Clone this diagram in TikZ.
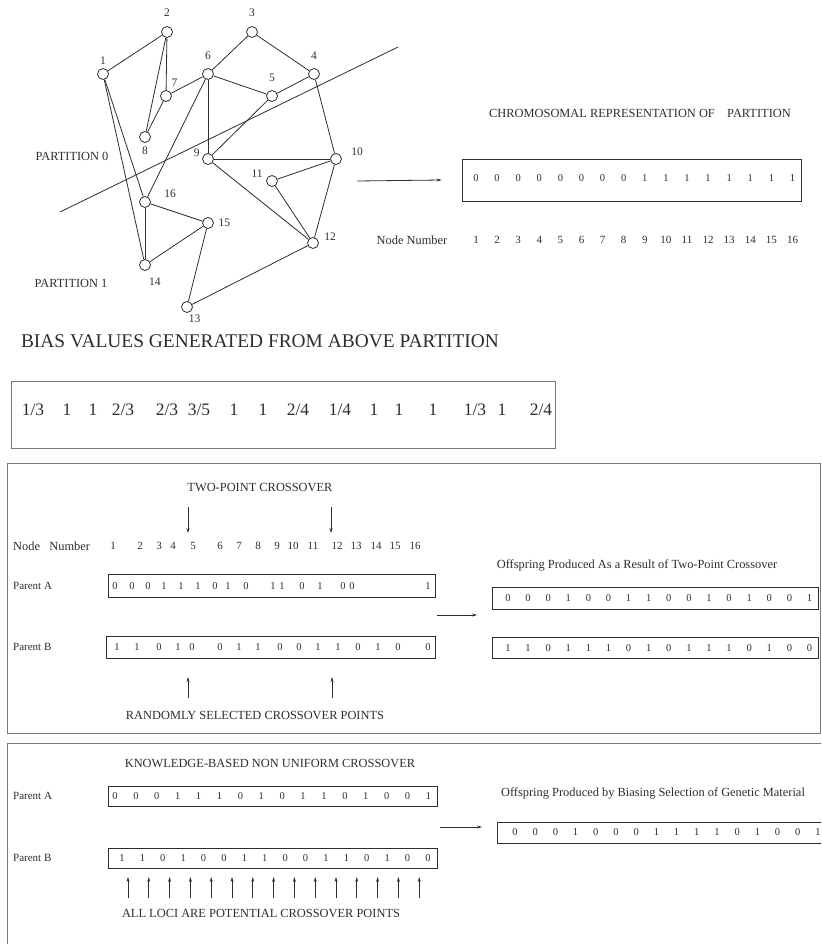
\documentclass[tikz,border=0pt]{standalone}
\usepackage{fontspec}
\setmainfont{Liberation Serif}
\usetikzlibrary{arrows.meta}
\definecolor{ink}{RGB}{45,45,45}
\definecolor{frame}{RGB}{120,120,120}
\tikzset{
  vtx/.style={circle,draw=ink,line width=0.8pt,minimum size=11pt,inner sep=0pt},
  vlab/.style={font=\fontsize{11.5}{13}\selectfont,inner sep=0.5pt,text=ink},
  lbl/.style={font=\fontsize{12.4}{14}\selectfont,inner sep=0pt,text=ink},
  small/.style={font=\fontsize{11}{13}\selectfont,inner sep=0pt,text=ink},
  note/.style={font=\fontsize{12.4}{14}\selectfont,inner sep=0pt,text=ink},
  big/.style={font=\fontsize{19.4}{22}\selectfont,inner sep=0pt,text=ink},
  bias/.style={font=\fontsize{17.5}{20}\selectfont,inner sep=0pt,text=ink},
  bit/.style={font=\fontsize{10.5}{12}\selectfont,inner sep=0pt,text=ink},
  chromo/.style={draw=ink,line width=0.7pt,inner sep=0pt},
  edge/.style={ink,line width=0.8pt},
  panel/.style={draw=frame,line width=1pt},
  >={Stealth[length=5pt,width=3pt]}
}
\begin{document}
\begin{tikzpicture}[x=1pt,y=-1pt]
 \useasboundingbox (0,0) rectangle (821,944);
 \clip (0,0) rectangle (821,944);
 % the graph and its cut
 \node[vtx,label={[vlab,label distance=3pt]90:1}] (n1) at (103,74) {};
 \node[vtx,label={[vlab,label distance=9pt]90:2}] (n2) at (167,32) {};
 \node[vtx,label={[vlab,label distance=9pt]90:3}] (n3) at (252,32) {};
 \node[vtx,label={[vlab,label distance=8pt]90:4}] (n4) at (314,74) {};
 \node[vtx,label={[vlab,label distance=8pt]90:5}] (n5) at (272,96) {};
 \node[vtx,label={[vlab,label distance=8pt]90:6}] (n6) at (208,74) {};
 \node[vtx,label={[vlab,label distance=4pt]60:7}] (n7) at (166,96) {};
 \node[vtx,label={[vlab,label distance=3pt]-90:8}] (n8) at (145,137) {};
 \node[vtx,label={[vlab,label distance=2pt]170:9}] (n9) at (208,159) {};
 \node[vtx,label={[vlab,label distance=9pt]10:10}] (n10) at (336,159) {};
 \node[vtx,label={[vlab,label distance=3pt]165:11}] (n11) at (272,181) {};
 \node[vtx,label={[vlab,label distance=5pt]10:12}] (n12) at (313,243) {};
 \node[vtx,label={[vlab,label distance=1pt]-80:13}] (n13) at (187,307) {};
 \node[vtx,label={[vlab,label distance=7pt]-75:14}] (n14) at (145,265) {};
 \node[vtx,label={[vlab,label distance=4pt]0:15}] (n15) at (208,223) {};
 \node[vtx,label={[vlab,label distance=13pt]10:16}] (n16) at (145,202) {};
 \foreach \a/\b in {n1/n2,n2/n7,n2/n8,n7/n8,n7/n6,n6/n3,n3/n4,n6/n5,n5/n4,
   n6/n9,n6/n16,n5/n9,n4/n10,n9/n10,n9/n12,n10/n11,n10/n12,n11/n12,
   n1/n14,n1/n16,n16/n14,n16/n15,n14/n15,n15/n13,n13/n12}
   \draw[edge] (\a) -- (\b);
 \coordinate (cutA) at (60,212);
 \coordinate (cutB) at (398,47);
 \draw[edge] (cutA) -- (cutB);
 \node[lbl] (part0) at (72,156) {PARTITION 0};
 \node[lbl] (part1) at (71,283) {PARTITION 1};
 % chromosome of the partition
 \node[lbl] (chromtitle) at (640,113) {CHROMOSOMAL REPRESENTATION OF\ \ \ \ PARTITION};
 \node[chromo,minimum width=339pt,minimum height=42pt] (chrom) at (631.5,180) {};
 \foreach \b [count=\i] in {0,0,0,0,0,0,0,0,1,1,1,1,1,1,1,1}
   \node[bit] (c\i) at ({476+21.1*(\i-1)},178) {\b};
 \node[lbl] (nodenum) at (412,240) {Node Number};
 \foreach \i in {1,...,16}
   \node[small] (cn\i) at ({476+21.1*(\i-1)},240) {\i};
 \coordinate (gout) at (357,181);
 \draw[edge,->] (gout) -- ([xshift=-20pt]chrom.west);
 % bias values
 \node[big] (biastitle) at (260,341) {BIAS VALUES GENERATED FROM ABOVE PARTITION};
 \node[panel,minimum width=544pt,minimum height=67pt] (biasbox) at (283,414.5) {};
 \foreach \x/\v in {33/{1/3},67/1,93/1,123/{2/3},167/{2/3},199/{3/5},234/1,263/1,
   298/{2/4},340/{1/4},374/1,399/1,433/1,475/{1/3},502/1,541/{2/4}}
   \node[bias] (bv\x) at (\x,410) {\v};
 % two-point crossover
 \draw[panel] (7,463) rectangle (820,733);
 \node[note] (tptitle) at (260,487) {TWO-POINT CROSSOVER};
 \coordinate (tpd1) at (188,507);
 \coordinate (tpd2) at (331,507);
 \draw[edge,->] (tpd1) -- ++(0,26);
 \draw[edge,->] (tpd2) -- ++(0,26);
 \node[note,anchor=west] (tpnum) at (13,546) {Node\ \ \ Number};
 \foreach \x [count=\i] in {113,140,159,173,193,220,239,258,277,293,313,337,356,376,395,415}
   \node[small] (tn\i) at (\x,546) {\i};
 \node[small,anchor=west] (tpAlab) at (13,586) {Parent A};
 \node[chromo,minimum width=327pt,minimum height=23pt] (tpA) at (271.5,585.5) {};
 \foreach \x/\b in {115/0,132/0,148/0,164/1,181/1,198/1,215/0,228/1,246/0,273/1,282/1,
   302/0,320/1,343/0,352/0,428/1}
   \node[bit] (ta\x) at (\x,586) {\b};
 \node[small,anchor=west] (tpBlab) at (13,647) {Parent B};
 \node[chromo,minimum width=329pt,minimum height=22pt] (tpB) at (270.5,647) {};
 \foreach \x/\b in {117/1,137/1,159/0,178/1,192/0,220/0,239/1,258/1,280/0,299/0,318/1,
   338/1,358/0,378/1,398/0,428/0}
   \node[bit] (tb\x) at (\x,647) {\b};
 \coordinate (tpgo) at (437,615);
 \coordinate (tpto) at (477,615);
 \draw[edge,->] (tpgo) -- (tpto);
 \node[note] (tpofftitle) at (637,565) {Offspring Produced As a Result of Two-Point Crossover};
 \node[chromo,minimum width=326pt,minimum height=22pt] (tpO1) at (655,598) {};
 \foreach \b [count=\i] in {0,0,0,1,0,0,1,1,0,0,1,0,1,0,0,1}
   \node[bit] (to\i) at ({508+20.1*(\i-1)},598) {\b};
 \node[chromo,minimum width=326pt,minimum height=21pt] (tpO2) at (655,647.5) {};
 \foreach \b [count=\i] in {1,1,0,1,1,1,0,1,0,1,1,1,0,1,0,0}
   \node[bit] (tq\i) at ({508+20.1*(\i-1)},648) {\b};
 \coordinate (tpu1) at (188,698);
 \coordinate (tpu2) at (332,698);
 \draw[edge,->] (tpu1) -- ++(0,-21);
 \draw[edge,->] (tpu2) -- ++(0,-21);
 \node[note] (tprand) at (255,715) {RANDOMLY SELECTED CROSSOVER POINTS};
 % knowledge-based crossover
 \draw[panel] (7,743) rectangle (840,960);
 \node[note] (kbtitle) at (270,763) {KNOWLEDGE-BASED NON UNIFORM CROSSOVER};
 \node[small,anchor=west] (kbAlab) at (13,796) {Parent A};
 \node[chromo,minimum width=329pt,minimum height=20pt] (kbA) at (272.5,796) {};
 \foreach \b [count=\i] in {0,0,0,1,1,1,0,1,0,1,1,0,1,0,0,1}
   \node[bit] (ka\i) at ({115+20.9*(\i-1)},796) {\b};
 \node[small,anchor=west] (kbBlab) at (13,858) {Parent B};
 \node[chromo,minimum width=329pt,minimum height=20pt] (kbB) at (272.5,858) {};
 \foreach \b [count=\i] in {1,1,0,1,0,0,1,1,0,0,1,1,0,1,0,0}
   \node[bit] (kb\i) at ({122+20.4*(\i-1)},858) {\b};
 \foreach \k in {1,...,15} {
   \coordinate (ku\k) at ({128+20.8*(\k-1)},898);
   \draw[edge,->] (ku\k) -- ++(0,-21);
 }
 \node[lbl] (kbloci) at (261,913) {ALL LOCI ARE POTENTIAL CROSSOVER POINTS};
 \coordinate (kbgo) at (440,827);
 \coordinate (kbto) at (482,827);
 \draw[edge,->] (kbgo) -- (kbto);
 \node[note] (kbofftitle) at (653,793) {Offspring Produced by Biasing Selection of Genetic Material};
 \draw[edge] (497,822) rectangle (830,843);
 \foreach \b [count=\i] in {0,0,0,1,0,0,0,1,1,1,1,0,1,0,0,1}
   \node[bit] (ko\i) at ({515+20.2*(\i-1)},832) {\b};
\end{tikzpicture}
\end{document}
